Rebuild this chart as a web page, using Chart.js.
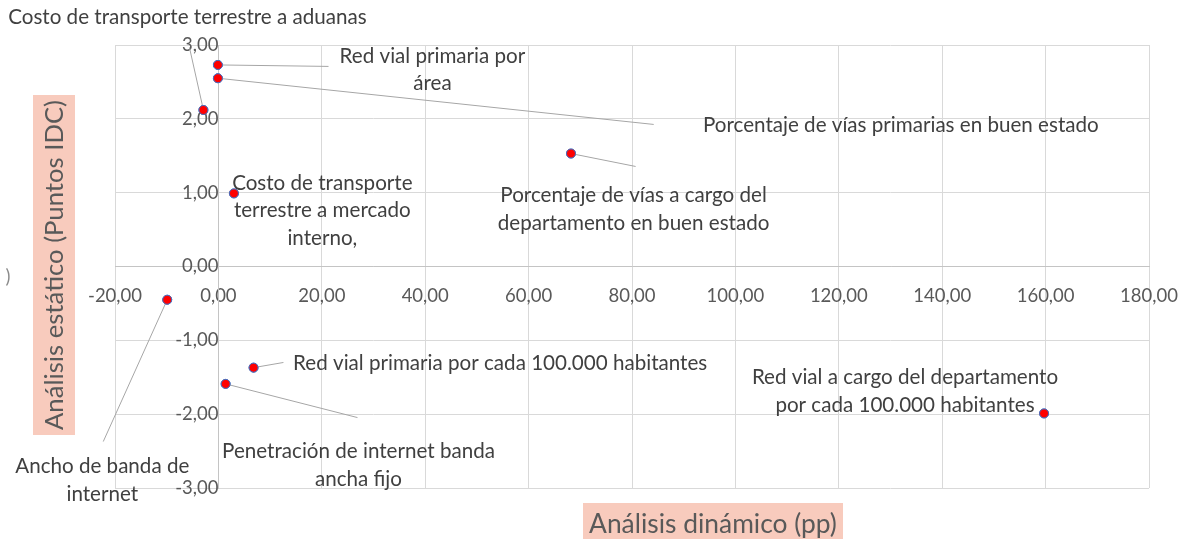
<!DOCTYPE html>
<html><head><meta charset="utf-8">
<script src="https://cdn.jsdelivr.net/npm/chart.js@4.4.1/dist/chart.umd.min.js"></script>
<style>html,body{margin:0;padding:0;background:#fff;overflow:hidden;}</style>
</head><body>
<canvas id="c" width="1181" height="539"></canvas>
<script>
// ---- data ----
const indicatorNames = [
  "Costo de transporte terrestre a aduanas",
  "Red vial primaria por área",
  "Porcentaje de vías primarias en buen estado",
  "Costo de transporte terrestre a mercado interno,",
  "Porcentaje de vías a cargo del departamento en buen estado",
  "Ancho de banda de internet",
  "Red vial primaria por cada 100.000 habitantes",
  "Penetración de internet banda ancha fijo",
  "Red vial a cargo del departamento por cada 100.000 habitantes"
];
const dynamicPP = [-2.9, -0.1, -0.1, 3.0, 68.2, -9.9, 6.8, 1.4, 159.7];
const staticIDC = [2.12, 2.73, 2.55, 0.99, 1.53, -0.45, -1.37, -1.59, -1.99];
const xTickValues = [-20, 0, 20, 40, 60, 80, 100, 120, 140, 160, 180];
const yTickValues = [-3, -2, -1, 0, 1, 2, 3];
const xAxisTitle = "Análisis dinámico (pp)";
const yAxisTitle = "Análisis estático (Puntos IDC)";

// label text lines (as in the picture) and their placement in data units
const labelLines = [
  ["Costo de transporte terrestre a aduanas"],
  ["Red vial primaria por", "área"],
  ["Porcentaje de vías primarias en buen estado"],
  ["Costo de transporte", "terrestre a mercado", "interno,"],
  ["Porcentaje de vías a cargo del", "departamento en buen estado"],
  ["Ancho de banda de", "internet"],
  ["Red vial primaria por cada 100.000 habitantes"],
  ["Penetración de internet banda", "ancha fijo"],
  ["Red vial a cargo del departamento", "por cada 100.000 habitantes"]
];
const labelAlign = ["left","center","center","center","center","center","center","center","center"];
const labelX = [-40.66, 41.4, 132.0, 20.1, 80.3, -22.46, 54.5, 27.1, 132.8];
const labelY = [3.374, 2.846, 1.91, 1.125, 0.962, -2.71, -1.314, -2.507, -1.504];
const leaderX = [-5.6, 21.3, 84.2, null, 80.7, -22.27, 12.58, 26.9, null];
const leaderY = [2.967, 2.71, 1.924, null, 1.355, -2.371, -1.30, -2.046, null];

// ---- font sizing ----
const FAMILY = "Lato, 'Open Sans', sans-serif";
const mctx = document.createElement('canvas').getContext('2d');
function fitSize(text, width, weight) {
  mctx.font = (weight || '') + ' 100px ' + FAMILY;
  return 100 * width / mctx.measureText(text).width;
}
const labelSize = fitSize("Porcentaje de vías primarias en buen estado", 396);
const tickSize = fitSize("-20,00", 54);
const yTitleSize = fitSize(yAxisTitle, 330);
const xTitleSize = fitSize(xAxisTitle, 248);
const fmt = v => v.toFixed(2).replace('.', ',');
const noPad = s => { s.paddingLeft = 0; s.paddingRight = 0; s.paddingTop = 0; s.paddingBottom = 0; };

const overlay = {
  id: 'overlay',
  afterDraw(chart) {
    const ctx = chart.ctx, xs = chart.scales.x, ys = chart.scales.y;
    ctx.save();
    // axis titles
    ctx.fillStyle = '#f8cbbd';
    ctx.fillRect(33, 95, 42, 340);
    ctx.fillRect(583, 503, 260, 40);
    ctx.fillStyle = '#595959';
    ctx.textAlign = 'center'; ctx.textBaseline = 'middle';
    ctx.font = yTitleSize + 'px ' + FAMILY;
    ctx.save(); ctx.translate(55, 265); ctx.rotate(-Math.PI / 2);
    ctx.fillText(yAxisTitle, 0, 0); ctx.restore();
    ctx.font = xTitleSize + 'px ' + FAMILY;
    ctx.fillText(xAxisTitle, 713, 524);
    ctx.font = tickSize + 'px ' + FAMILY;
    ctx.fillStyle = '#8a8a8a';
    ctx.fillText(')', 8, 277);

    // leader lines
    const meta = chart.getDatasetMeta(0);
    ctx.strokeStyle = '#a6a6a6'; ctx.lineWidth = 1;
    dynamicPP.forEach((v, i) => {
      if (leaderX[i] === null) return;
      const p = meta.data[i];
      ctx.beginPath();
      ctx.moveTo(p.x, p.y);
      ctx.lineTo(xs.getPixelForValue(leaderX[i]), ys.getPixelForValue(leaderY[i]));
      ctx.stroke();
    });
    // redraw points above leader lines
    meta.data.forEach(el => el.draw(ctx, chart.chartArea));

    // labels
    ctx.fillStyle = '#404040';
    ctx.font = labelSize + 'px ' + FAMILY;
    ctx.textBaseline = 'middle';
    const lh = labelSize * 1.33;
    labelLines.forEach((lines, i) => {
      ctx.textAlign = labelAlign[i];
      const x = xs.getPixelForValue(labelX[i]);
      const y0 = ys.getPixelForValue(labelY[i]);
      lines.forEach((t, k) => ctx.fillText(t, x, y0 + k * lh));
    });
    ctx.restore();
  }
};

new Chart(document.getElementById('c'), {
  type: 'scatter',
  data: {
    datasets: [{
      label: 'Indicadores',
      data: dynamicPP.map((x, i) => ({ x: x, y: staticIDC[i] })),
      backgroundColor: '#ff0000',
      borderColor: '#4472c4',
      borderWidth: 1,
      pointRadius: 4.5,
      pointHoverRadius: 4.5
    }]
  },
  options: {
    responsive: false,
    animation: false,
    events: [],
    layout: { padding: { left: 115, right: 32, top: 45, bottom: 51 } },
    plugins: { legend: { display: false }, tooltip: { enabled: false } },
    scales: {
      x: {
        type: 'linear',
        min: xTickValues[0], max: xTickValues[xTickValues.length - 1],
        position: { y: 0 },
        afterBuildTicks: s => { s.ticks = xTickValues.map(v => ({ value: v })); },
        afterFit: noPad,
        ticks: { callback: fmt, color: '#595959', padding: 18, maxRotation: 0, autoSkip: false,
                 font: { family: FAMILY, size: tickSize } },
        grid: { color: '#d9d9d9', drawTicks: false, lineWidth: 1 },
        border: { display: true, color: '#c4c4c4' }
      },
      y: {
        type: 'linear',
        min: yTickValues[0], max: yTickValues[yTickValues.length - 1],
        position: { x: 0 },
        afterBuildTicks: s => { s.ticks = yTickValues.map(v => ({ value: v })); },
        afterFit: noPad,
        ticks: { callback: fmt, color: '#595959', padding: 18, autoSkip: false,
                 font: { family: FAMILY, size: tickSize } },
        grid: { color: '#d9d9d9', drawTicks: false, lineWidth: 1 },
        border: { display: true, color: '#c4c4c4' }
      }
    }
  },
  plugins: [overlay]
});
</script>
</body></html>
